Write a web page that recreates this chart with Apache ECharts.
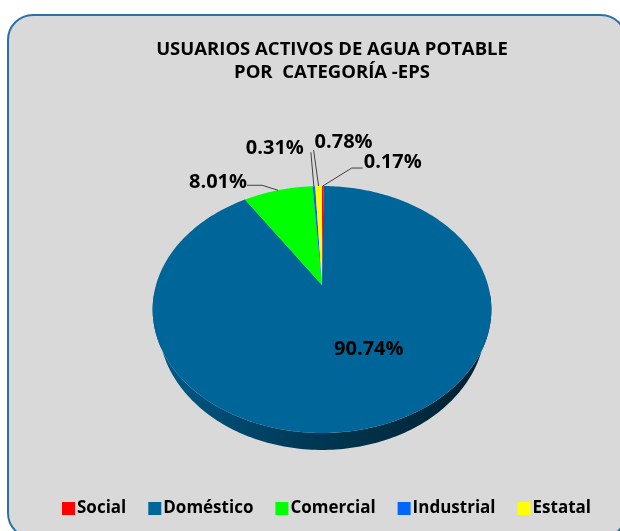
<!DOCTYPE html>
<html>
<head>
<meta charset="utf-8">
<script src="https://cdn.jsdelivr.net/npm/echarts@6/dist/echarts.min.js"></script>
<style>
  html, body { margin: 0; padding: 0; background: #fff; }
  #frame {
    position: absolute; left: 7px; top: 14px; width: 620px; height: 525px;
    box-sizing: border-box; border: 2px solid #2a72a6; border-radius: 26px;
    background: #d9d9d9;
  }
  #main { position: absolute; left: 0; top: 0; width: 620px; height: 531px; }
</style>
</head>
<body>
<div id="frame"></div>
<div id="main"></div>
<script>
// datos del gráfico
const categories = ["Social", "Doméstico", "Comercial", "Industrial", "Estatal"];
const percents = [0.17, 90.74, 8.01, 0.31, 0.78];
const colors = ["#ff0000", "#006699", "#00ff00", "#0066ff", "#ffff00"];

// posición de etiquetas respecto al borde de cada porción (como en Excel)
const labelAt = [[70, -24], [-10, -77], [-60, -8], [-39, -38], [25, -44]];
const leaderVia = [[[29, -18], [40, -18]], null, [[-16, -5], [-31, -5]], [[-3, -34]], [[-5, -36]]];

// geometría del pastel 3D (perspectiva)
const CX = 322, CY = 285, RX = 166, RY = 118.6, K = -0.1984, DEPTH = 13.6, SHRINK = 0.965;
const FRONT_A = 95 * Math.PI / 180, FRONT_B = 265 * Math.PI / 180;

const total = percents.reduce((a, b) => a + b, 0);
const starts = [];
let acc = 0;
percents.forEach(v => { starts.push(acc); acc += v; });

// h = 0 cara superior, h = 1 borde inferior (más lejano, se encoge hacia el centro)
function proj(phi, h) {
  const u = Math.sin(phi), v = -Math.cos(phi);
  const s = 1 / (1 + K * v);
  const sx = h ? SHRINK : 1;
  return [CX + RX * u * s * sx, CY + RY * v * s + h * DEPTH * s];
}

function arc(a0, a1, h) {
  const pts = [];
  const n = Math.max(2, Math.ceil((a1 - a0) / (Math.PI / 180)));
  for (let j = 0; j <= n; j++) pts.push(proj(a0 + (a1 - a0) * j / n, h));
  return pts;
}

const sideFill = new echarts.graphic.LinearGradient(155, 0, 490, 0, [
  { offset: 0, color: "#005a8a" },
  { offset: 0.45, color: "#003956" },
  { offset: 1, color: "#00202e" }
], true);

function makeRender(i) {
  return function (params, api) {
    const a0 = starts[i] / total * Math.PI * 2;
    const a1 = (starts[i] + percents[i]) / total * Math.PI * 2;
    const children = [];

    // cara lateral visible
    const s0 = Math.max(a0, FRONT_A), s1 = Math.min(a1, FRONT_B);
    if (s1 > s0) {
      const pts = arc(s0, s1, 0).concat(arc(s0, s1, 1).reverse());
      children.push({ type: "polygon", shape: { points: pts }, style: { fill: sideFill }, z2: 1 });
    }

    // cara superior
    const top = [[CX, CY]].concat(arc(a0, a1, 0));
    children.push({ type: "polygon", shape: { points: top }, style: { fill: colors[i] }, z2: 2 });

    // etiqueta
    const rim = proj((a0 + a1) / 2, 0);
    if (leaderVia[i]) {
      const line = [rim].concat(leaderVia[i].map(p => [rim[0] + p[0], rim[1] + p[1]]));
      children.push({ type: "polyline", shape: { points: line }, style: { stroke: "#404040", lineWidth: 1, fill: null }, z2: 3 });
    }
    children.push({
      type: "text", z2: 4,
      style: {
        text: api.value(0).toFixed(2) + "%",
        x: rim[0] + labelAt[i][0], y: rim[1] + labelAt[i][1],
        align: "center", verticalAlign: "middle",
        font: "bold 20px 'Open Sans'", fill: "#000"
      }
    });
    return { type: "group", children: children };
  };
}

const chart = echarts.init(document.getElementById("main"));
chart.setOption({
  animation: false,
  title: {
    text: "USUARIOS ACTIVOS DE AGUA POTABLE\nPOR  CATEGORÍA -EPS",
    left: 327, top: 33, textAlign: "center",
    textStyle: { fontFamily: "Open Sans", fontWeight: "bold", fontSize: 18.5, lineHeight: 23, color: "#000" }
  },
  legend: {
    data: categories,
    top: 495, left: 57,
    icon: "rect", itemWidth: 13, itemHeight: 13, itemGap: 22,
    textStyle: { fontFamily: "Open Sans", fontWeight: "bold", fontSize: 17, color: "#000", padding: [0, 0, 0, -3] }
  },
  series: categories.map((name, i) => ({
    type: "custom",
    name: name,
    coordinateSystem: "none",
    itemStyle: { color: colors[i] },
    renderItem: makeRender(i),
    data: [[percents[i]]]
  }))
});
</script>
</body>
</html>
